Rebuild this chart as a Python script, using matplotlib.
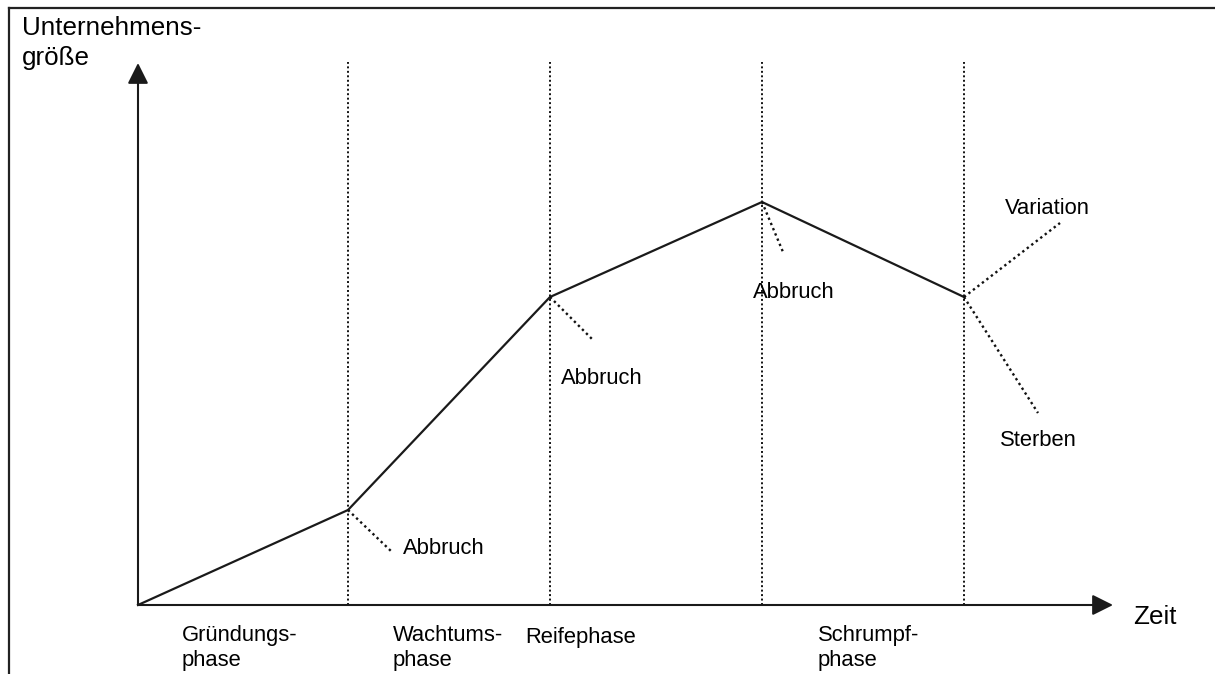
import matplotlib.pyplot as plt
from matplotlib.lines import Line2D

plt.rcParams['font.family'] = ['Liberation Sans', 'DejaVu Sans']

# phase boundaries along the time axis and company size at each boundary
zeit = [0, 210, 412, 624, 826]
groesse = [0, 95, 308, 403, 308]
phasen = ["Gründungs-\nphase", "Wachtums-\nphase", "Reifephase", "Schrumpf-\nphase"]
phasen_x = [44, 255, 387, 680]

# dotted side branches: (start index, end x, end y, label, label x, label y)
zweige = [
    (1, 254, 53, "Abbruch", 265, 56),
    (2, 455, 265, "Abbruch", 423, 227),
    (3, 645, 353, "Abbruch", 615, 312),
    (4, 922, 382, "Variation", 867, 397),
    (4, 900, 192, "Sterben", 862, 165),
]

fig = plt.figure(figsize=(12.15, 6.74), dpi=100)
ax = fig.add_axes([0, 0, 1, 1])
ax.set_xlim(-138, 1215 - 138)
ax.set_ylim(-(674 - 605), 605)
ax.axis('off')

# frame (top and left edges only)
fig.add_artist(Line2D([9 / 1215, 1], [1 - 8 / 674, 1 - 8 / 674], color='#222222', lw=1.6))
fig.add_artist(Line2D([9 / 1215, 9 / 1215], [0, 1 - 8 / 674], color='#222222', lw=1.6))

# axes arrows
pfeil = dict(arrowstyle='-|>,head_length=0.9,head_width=0.45', color='#1a1a1a', lw=1.5,
             shrinkA=0, shrinkB=0, mutation_scale=14)
ax.annotate('', xy=(0, 542), xytext=(0, 0), arrowprops=pfeil)
ax.annotate('', xy=(975, 0), xytext=(0, 0), arrowprops=pfeil)

# vertical dotted phase separators
for x in zeit[1:]:
    ax.plot([x, x], [0, 543], color='#111111', lw=1.4, linestyle=(0, (1, 1.3)))

# life-cycle curve
ax.plot(zeit, groesse, color='#1a1a1a', lw=1.6, solid_joinstyle='miter')

for i, ex, ey, txt, tx, ty in zweige:
    ax.plot([zeit[i], ex], [groesse[i], ey], color='#111111', lw=1.7, linestyle=(0, (1, 1.4)))
    ax.text(tx, ty, txt, fontsize=15.8, ha='left', va='center')

for txt, x in zip(phasen, phasen_x):
    if '\n' in txt:
        ax.text(x, -20, txt, fontsize=15.8, ha='left', va='top', linespacing=1.24)
    else:
        ax.text(x, -33, txt, fontsize=15.8, ha='left', va='center')

ax.text(-116, 589, "Unternehmens-\ngröße", fontsize=18.7, ha='left', va='top', linespacing=1.3)
ax.text(995, -12, "Zeit", fontsize=18.7, ha='left', va='center')

fig.savefig('out.png', dpi=100)
